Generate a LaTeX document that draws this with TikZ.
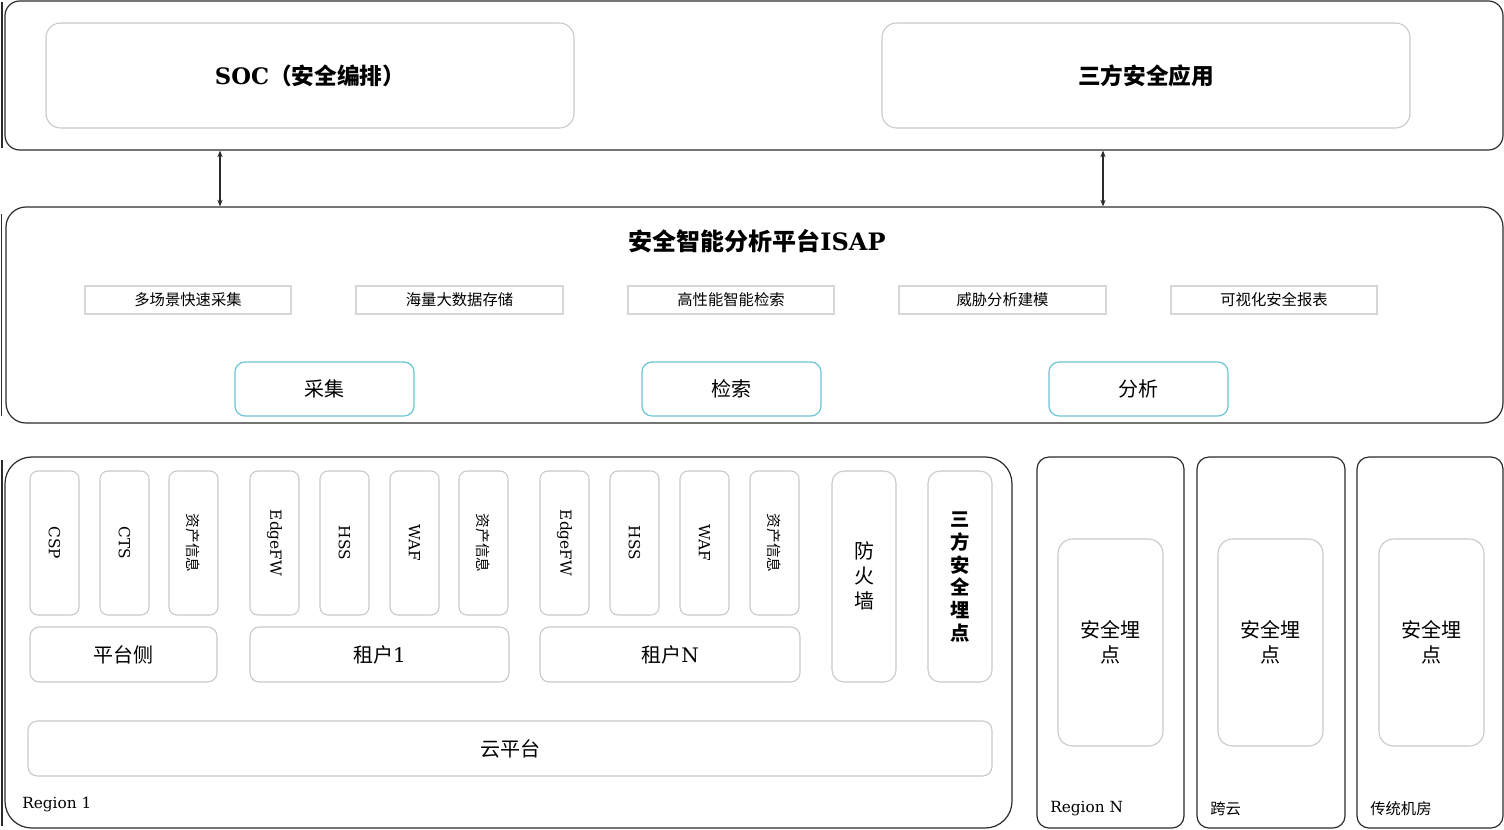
\documentclass[tikz,border=0pt]{standalone}
\usepackage{fontspec}
\setmainfont{DejaVu Serif}
\newfontfamily\cjk{Noto Sans CJK SC}
\usetikzlibrary{fit,arrows.meta}
\definecolor{tealc}{HTML}{6CC6D4}
\definecolor{outerc}{HTML}{2B2B2B}
\definecolor{grayc}{HTML}{C8C8C8}
\definecolor{featc}{HTML}{D6D6D6}
\begin{document}
\begin{tikzpicture}[x=0.75pt,y=-0.75pt,
  outer/.style={draw=outerc, line width=0.9pt, inner sep=0pt},
  gbox/.style={draw=grayc, line width=0.8pt, inner sep=0pt},
  feat/.style={draw=featc, line width=0.8pt, inner sep=0pt},
  ftxt/.style={inner sep=0pt, font=\cjk\fontsize{11.5}{14}\selectfont},
  tealbox/.style={draw=tealc, line width=0.9pt, rounded corners=7.5pt, inner sep=0pt},
  txt15/.style={inner sep=0pt, font=\cjk\fontsize{15}{18}\selectfont},
  bigtxt/.style={inner sep=0pt, font=\cjk\bfseries\fontsize{17}{20}\selectfont},
  tallbox/.style={gbox, rounded corners=6pt},
  vlat/.style={rotate=-90, font=\fontsize{11.5}{14}\selectfont, inner sep=0pt},
  vcjk/.style={rotate=-90, font=\cjk\fontsize{11}{13}\selectfont, inner sep=0pt},
  grp/.style={gbox, rounded corners=7pt},
  ptxt/.style={inner sep=0pt, align=center, font=\cjk\fontsize{15}{18.75}\selectfont},
  bothArr/.style={{Stealth[length=5pt,width=4pt]}-{Stealth[length=5pt,width=4pt]}, line width=0.8pt, draw=outerc},
  lbl/.style={anchor=west, inner sep=0pt, font=\fontsize{11.5}{14}\selectfont},
  clbl/.style={anchor=west, inner sep=0pt, font=\cjk\fontsize{11.5}{14}\selectfont}
]
\useasboundingbox (0,0) rectangle (1504,829);

% left edge slivers
\draw[outerc, line width=0.8pt] (2,2) -- (2,148);
\draw[outerc, line width=0.8pt] (1.5,214) -- (1.5,416);
\draw[outerc, line width=0.8pt] (2,460) -- (2,826);

% ---------- top layer ----------
\node[outer, rounded corners=11pt, fit={(5,1) (1503,150)}] (top) {};
\node[gbox, rounded corners=11pt, fit={(46,23) (574,128)}] (soc) {};
\node[bigtxt] (soct) at (soc.center) {{\rmfamily\bfseries SOC}（安全编排）};
\node[gbox, rounded corners=11pt, fit={(882,23) (1410,128)}] (third) {};
\node[bigtxt] (thirdt) at (third.center) {三方安全应用};

% ---------- ISAP ----------
\node[outer, rounded corners=15pt, fit={(6,207) (1503,423)}] (isap) {};
\node[inner sep=0pt, font=\cjk\bfseries\fontsize{18}{22}\selectfont] (isaptitle) at (757,241) {安全智能分析平台{\rmfamily\bfseries ISAP}};

\node[feat, fit={(85,286) (291,314)}] (f1) {};
\node[feat, fit={(356,286) (563,314)}] (f2) {};
\node[feat, fit={(628,286) (834,314)}] (f3) {};
\node[feat, fit={(899,286) (1106,314)}] (f4) {};
\node[feat, fit={(1171,286) (1377,314)}] (f5) {};
\node[ftxt] (f1t) at (f1.center) {多场景快速采集};
\node[ftxt] (f2t) at (f2.center) {海量大数据存储};
\node[ftxt] (f3t) at (f3.center) {高性能智能检索};
\node[ftxt] (f4t) at (f4.center) {威胁分析建模};
\node[ftxt] (f5t) at (f5.center) {可视化安全报表};

\node[tealbox, fit={(235,362) (414,416)}] (cj) {};
\node[tealbox, fit={(642,362) (821,416)}] (js) {};
\node[tealbox, fit={(1049,362) (1228,416)}] (fx) {};
\node[txt15] (cjt) at (cj.center) {采集};
\node[txt15] (jst) at (js.center) {检索};
\node[txt15] (fxt) at (fx.center) {分析};

% arrows
\coordinate (ax1) at (220,0);
\coordinate (ax2) at (1103,0);
\draw[bothArr] (top.south -| ax1) -- (isap.north -| ax1);
\draw[bothArr] (top.south -| ax2) -- (isap.north -| ax2);

% ---------- Region 1 ----------
\node[outer, rounded corners=20pt, fit={(5,457) (1012,828)}] (r1) {};

\node[tallbox, fit={(30,471) (79,615)}] (t1) {};
\node[tallbox, fit={(100,471) (149,615)}] (t2) {};
\node[tallbox, fit={(169,471) (218,615)}] (t3) {};
\node[tallbox, fit={(250,471) (299,615)}] (t4) {};
\node[tallbox, fit={(320,471) (369,615)}] (t5) {};
\node[tallbox, fit={(390,471) (439,615)}] (t6) {};
\node[tallbox, fit={(459,471) (508,615)}] (t7) {};
\node[tallbox, fit={(540,471) (589,615)}] (t8) {};
\node[tallbox, fit={(610,471) (659,615)}] (t9) {};
\node[tallbox, fit={(680,471) (729,615)}] (t10) {};
\node[tallbox, fit={(750,471) (799,615)}] (t11) {};

\node[vlat] (l1) at (t1.center) {CSP};
\node[vlat] (l2) at (t2.center) {CTS};
\node[vcjk] (l3) at (t3.center) {资产信息};
\node[vlat] (l4) at (t4.center) {EdgeFW};
\node[vlat] (l5) at (t5.center) {HSS};
\node[vlat] (l6) at (t6.center) {WAF};
\node[vcjk] (l7) at (t7.center) {资产信息};
\node[vlat] (l8) at (t8.center) {EdgeFW};
\node[vlat] (l9) at (t9.center) {HSS};
\node[vlat] (l10) at (t10.center) {WAF};
\node[vcjk] (l11) at (t11.center) {资产信息};

\node[grp, fit={(30,627) (217,682)}] (g1) {};
\node[grp, fit={(250,627) (509,682)}] (g2) {};
\node[grp, fit={(540,627) (800,682)}] (g3) {};
\node[txt15] (g1t) at (g1.center) {平台侧};
\node[txt15] (g2t) at (g2.center) {租户{\rmfamily 1}};
\node[txt15] (g3t) at (g3.center) {租户{\rmfamily N}};

\node[gbox, rounded corners=9pt, fit={(832,471) (896,682)}] (fw) {};
\node[ptxt] (fwt) at (864,576) {防\\火\\墙};
\node[gbox, rounded corners=9pt, fit={(928,471) (992,682)}] (sf) {};
\node[inner sep=0pt, align=center, font=\cjk\bfseries\fontsize{14.5}{17}\selectfont] (sft) at (960,577) {三\\方\\安\\全\\埋\\点};

\node[grp, fit={(28,721) (992,776)}] (cloud) {};
\node[txt15] (cloudt) at (cloud.center) {云平台};
\node[lbl] (r1l) at (22,805) {Region 1};

% ---------- other regions ----------
\node[outer, rounded corners=9pt, fit={(1037,457) (1184,828)}] (rn) {};
\node[gbox, rounded corners=11pt, fit={(1058,539) (1163,746)}] (rnp) {};
\node[ptxt] (rnpt) at (rnp.center) {安全埋\\点};
\node[lbl] (rnl) at (1050,809) {Region N};

\node[outer, rounded corners=9pt, fit={(1197,457) (1345,828)}] (ky) {};
\node[gbox, rounded corners=11pt, fit={(1218,539) (1323,746)}] (kyp) {};
\node[ptxt] (kypt) at (kyp.center) {安全埋\\点};
\node[clbl] (kyl) at (1210,809) {跨云};

\node[outer, rounded corners=9pt, fit={(1357,457) (1503,828)}] (ct) {};
\node[gbox, rounded corners=11pt, fit={(1379,539) (1484,746)}] (ctp) {};
\node[ptxt] (ctpt) at (ctp.center) {安全埋\\点};
\node[clbl] (ctl) at (1370,809) {传统机房};

\end{tikzpicture}
\end{document}
